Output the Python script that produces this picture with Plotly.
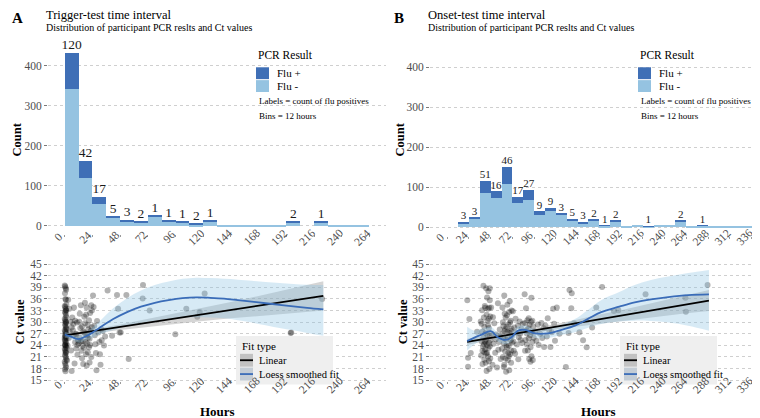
import plotly.graph_objects as go

W, H = 760, 418
FONT = "Liberation Serif, Times New Roman, Tinos, DejaVu Serif, serif"

# ---------------- data ----------------
bin_width = 12
a_bin_start = list(range(0, 264, 12))
a_flu_neg = [342, 120, 56, 19, 12, 9, 25, 12, 10, 4, 12, 3, 3, 2, 2, 3, 9, 0, 10, 1, 2, 1]
a_flu_pos = [91, 42, 17, 5, 3, 2, 1, 1, 1, 2, 1, 0, 0, 0, 0, 0, 2, 0, 1, 0, 0, 0]
a_pos_labels = ["120", "42", "17", "5", "3", "2", "1", "1", "1", "2", "1", "", "", "", "", "", "2", "", "1", "", "", ""]

b_bin_start = list(range(0, 336, 12))
b_flu_neg = [0, 10, 22, 85, 74, 109, 60, 69, 30, 40, 32, 16, 10, 17, 4, 15, 2, 7, 2, 7, 5, 14, 1, 4, 3, 2, 2, 3]
b_flu_pos = [0, 3, 3, 31, 16, 42, 16, 25, 10, 9, 3, 5, 3, 2, 1, 2, 0, 0, 1, 0, 0, 2, 0, 1, 0, 0, 0, 0]
b_pos_labels = ["", "3", "3", "51", "16", "46", "17", "27", "9", "9", "3", "5", "3", "2", "1", "2", "", "", "1", "", "", "2", "", "1", "", "", "", ""]

a_x_ticks = list(range(0, 265, 24))
b_x_ticks = list(range(0, 337, 24))
count_ticks = [0, 100, 200, 300, 400]
ct_ticks = list(range(15, 46, 3))

# Panel A scatter (hours, Ct)
a_pt_hours = [
    0.0, 0.4, 0.8, 1.2, 0.2, 0.6, 1.0, 1.4, 0.0, 0.4, 0.8, 1.2, 0.2, 0.6, 1.0, 1.4, 0.0, 0.4, 0.8, 1.2,
    0.2, 0.6, 1.0, 1.4, 0.0, 0.4, 0.8, 1.2, 0.2, 0.6, 1.0, 1.4, 0.0, 0.4, 0.8, 1.2, 0.2, 0.6, 1.0, 1.4,
    0.0, 0.4, 0.8, 1.2, 0.2, 0.6, 1.0, 1.4, 0.0, 0.4, 0.8, 1.2, 0.2, 0.6, 1.0, 1.4, 0.0, 0.4, 0.8, 1.2,
    3, 4, 5, 6, 7, 8, 9, 10, 11, 3.5, 5.5, 6.5, 7.5, 8.5, 9.5, 10.5, 4.5, 2.5, 11.5, 6, 8, 9, 2, 10, 11,
    12.5, 13, 14, 14.5, 15, 15.5, 16, 16.5, 17, 17.5, 18, 18.5, 19, 19.5, 20, 20.5, 21, 21.5, 22, 22.5, 23,
    23.5, 13.5, 14, 15, 17, 18, 19, 20, 21, 22, 23, 12, 16, 18.5, 20, 21.5, 23.5, 13, 15.5, 17.5, 19.5,
    24.5, 25, 25.5, 26, 26.5, 27, 27.5, 28, 29, 30, 31, 31.5, 32, 33, 34, 35, 30.5,
    37.1, 41, 45.3, 46.2, 47.5, 48.5, 53.4, 55.4, 67.8, 67.5, 73.6, 95.8, 105.3, 114.8, 116.9, 121.2,
    195.7, 196.2, 223,
]
a_pt_ct = [
    39.5, 39.2, 38.8, 38.4, 37.5, 36.0, 35.8, 34.6, 34.2, 33.9, 33.5, 33.1, 32.7, 32.3, 31.8, 31.3, 30.9, 30.5, 30.2, 29.8,
    29.5, 29.1, 28.7, 28.4, 28.0, 27.6, 27.3, 27.0, 26.7, 26.4, 26.1, 25.8, 25.5, 25.2, 24.9, 24.6, 24.3, 24.0, 23.7, 23.4,
    23.1, 22.8, 22.4, 22.0, 21.6, 21.2, 20.8, 20.3, 19.8, 19.3, 18.8, 18.3, 17.8, 17.3, 30.0, 28.2, 26.0, 24.1, 22.2, 33.0,
    35.8, 33.5, 30.1, 28.7, 27.9, 26.5, 24.8, 23.2, 21.6, 25.9, 22.7, 31.2, 29.5, 19.3, 27.0, 29.9, 27.4, 23.9, 25.3, 17.4, 33.8, 30.4, 20.1, 26.8, 24.1,
    30.1, 26.0, 34.4, 22.6, 28.9, 25.2, 19.2, 23.4, 27.3, 29.7, 24.9, 21.7, 33.8, 26.6, 22.2, 28.2, 30.5, 25.7, 24.1, 27.8, 34.4,
    33.0, 28.5, 25.0, 20.7, 31.4, 26.9, 18.8, 29.3, 23.5, 32.4, 21.0, 24.5, 27.6, 31.9, 25.9, 19.6, 28.7, 32.2, 23.9, 35.0, 24.4,
    36.9, 33.9, 29.1, 26.6, 24.3, 22.0, 17.6, 30.3, 27.3, 24.9, 19.0, 28.2, 25.3, 27.8, 24.0, 26.3, 21.7,
    38.2, 26.5, 37.0, 33.5, 27.3, 27.3, 37.0, 20.5, 39.6, 36.1, 33.0, 26.9, 33.5, 31.4, 32.6, 37.4,
    27.2, 27.3, 36.0,
]

# Panel B scatter (hours, Ct)
b_pt_hours = [
    22.2, 23, 23, 24.5, 26, 33,
    37, 38, 39, 40, 40.5, 41, 41.5, 42, 42.5, 43, 43, 43.5, 44, 44.5, 45, 45, 45.5, 46, 46, 46.5, 47, 47, 47.5, 47.5,
    38, 39, 40, 41, 42, 44, 45, 46, 47, 37.5, 38.5, 39.5, 41.5, 42.5, 43.5, 44.5, 46.5, 47.5, 40.5, 43, 45.5, 39, 44, 47, 46, 42, 41,
    48.5, 49, 50, 51, 52, 53, 54, 55, 56, 57, 58, 59, 50.5, 53.5, 56.5, 58.5,
    60.5, 61, 61.5, 62, 62.5, 63, 63, 63.5, 64, 64.5, 65, 65, 65.5, 66, 66.5, 67, 67, 67.5, 68, 68.5, 68.5, 69, 69.5, 70, 70,
    70.5, 71, 71, 71.5, 60.5, 61.5, 62.5, 64, 66, 67.5, 69, 70.5, 71.5, 62, 64.5, 66.5, 68, 69.5, 63.5, 65.5, 70,
    72.5, 73, 74, 75, 76, 77, 78, 79, 80, 81, 82, 83, 73.5, 75.5, 78.5, 80.5, 83.5,
    85.5, 86, 86.5, 87, 87.5, 88, 88.5, 89, 89.5, 90, 90.5, 91, 91.5, 92, 92.5, 93, 93, 93.5, 94, 94.5, 95, 95.5, 88, 90, 92, 94, 86,
    97, 98.5, 100, 101, 102.5, 104, 105, 106.5, 107,
    108.5, 110, 111, 112.5, 114, 115.5, 117, 118, 119,
    121, 124, 131, 135, 137.5, 137, 134, 140, 146, 150, 154, 164.6, 160, 171, 184, 189, 219, 263, 263.5, 287.5,
]
b_pt_ct = [
    35.7, 20.8, 18.5, 30.8, 22.0, 27.5,
    30.2, 29.6, 27.5, 39.4, 24.3, 20.3, 34.2, 23.0, 19.5, 38.8, 25.5, 31.9, 22.0, 26.7, 33.5, 21.1, 38.0, 24.7, 28.5, 17.9, 35.7, 23.8, 31.5, 20.6,
    25.1, 22.6, 26.0, 28.8, 33.7, 24.1, 29.2, 19.9, 26.4, 21.4, 33.1, 23.7, 25.1, 27.2, 17.4, 30.4, 33.7, 25.3, 31.2, 21.9, 23.3, 19.2, 36.4, 38.8, 30.9, 24.8, 22.2,
    33.8, 27.1, 19.0, 24.4, 29.7, 22.1, 26.8, 18.3, 34.9, 24.9, 28.1, 20.5, 31.3, 25.6, 22.9, 26.3,
    26.9, 33.8, 21.0, 29.0, 24.5, 36.9, 19.0, 27.7, 22.4, 31.2, 25.6, 17.2, 28.8, 23.5, 34.5, 20.2, 26.2, 29.4, 24.0, 17.6, 32.6, 27.2, 21.7, 25.3, 30.4,
    22.7, 28.3, 33.0, 24.7, 23.1, 30.0, 18.4, 28.2, 31.8, 22.0, 35.4, 19.5, 26.5, 25.9, 20.6, 27.5, 21.2, 29.9, 32.2, 24.0, 27.8,
    32.8, 25.0, 28.6, 21.9, 27.3, 24.2, 29.1, 26.1, 30.2, 25.4, 28.2, 24.7, 22.6, 30.9, 20.4, 27.0, 29.6,
    37.2, 29.8, 25.4, 33.6, 27.9, 24.2, 30.5, 22.7, 28.4, 25.8, 20.5, 29.3, 26.6, 23.5, 30.1, 36.3, 21.2, 27.4, 24.9, 20.2, 28.9, 26.0, 27.1, 31.0, 19.8, 30.4, 22.6,
    27.5, 25.2, 29.4, 24.1, 27.0, 29.8, 25.9, 28.4, 23.6,
    29.1, 26.3, 31.0, 28.0, 23.6, 27.4, 33.5, 29.6, 25.2,
    33.8, 27.0, 18.4, 38.3, 37.5, 33.6, 27.2, 29.7, 27.4, 25.3, 23.5, 33.8, 28.6, 39.1, 32.9, 33.1, 37.2, 36.3, 32.7, 39.6,
]

# Fitted curves
a_lin_hours = [0, 24, 48, 72, 96, 120, 144, 168, 192, 216, 224]
a_lin_fit = [26.6, 27.7, 28.8, 29.9, 31.0, 32.1, 33.2, 34.2, 35.3, 36.4, 36.8]
a_lin_lo = [26.0, 27.1, 28.0, 28.8, 29.6, 30.3, 31.0, 31.6, 32.2, 32.8, 33.0]
a_lin_hi = [27.0, 28.1, 29.4, 30.8, 32.2, 33.7, 35.2, 36.8, 38.4, 40.0, 40.6]

a_loess_hours = [0, 6, 12, 18, 24, 30, 42, 54, 66, 78, 90, 102, 114, 126, 138, 150, 162, 174, 186, 198, 210, 224]
a_loess_fit = [26.8, 26.2, 25.6, 26.3, 27.3, 28.5, 30.8, 32.6, 34.0, 35.0, 35.7, 36.2, 36.4, 36.3, 36.1, 35.7, 35.3, 34.9, 34.5, 34.1, 33.7, 33.3]
a_loess_lo = [26.1, 25.5, 24.7, 25.3, 26.0, 26.8, 28.0, 29.0, 29.8, 30.4, 30.9, 31.2, 31.3, 31.2, 31.0, 30.5, 29.9, 29.2, 28.5, 27.9, 27.2, 26.5]
a_loess_hi = [27.5, 26.9, 26.5, 27.3, 28.6, 30.2, 33.6, 36.2, 38.2, 39.6, 40.5, 41.2, 41.5, 41.4, 41.2, 41.0, 40.7, 40.4, 40.1, 39.9, 39.7, 39.6]

b_lin_hours = [22, 48, 72, 96, 120, 144, 168, 192, 216, 240, 264, 289]
b_lin_fit = [24.9, 25.95, 26.9, 27.9, 28.8, 29.8, 30.8, 31.7, 32.7, 33.7, 34.6, 35.6]
b_lin_lo = [24.1, 25.4, 26.4, 27.3, 28.1, 28.9, 29.6, 30.3, 31.0, 31.7, 32.3, 32.9]
b_lin_hi = [25.7, 26.5, 27.4, 28.5, 29.5, 30.7, 32.0, 33.1, 34.4, 35.7, 36.9, 38.3]

b_loess_hours = [22, 30, 38, 48, 56, 64, 71, 78, 86, 97, 111, 126, 141, 155, 170, 190, 207, 225, 244, 266, 289]
b_loess_fit = [25.1, 26.0, 26.8, 27.7, 26.1, 25.4, 26.1, 27.8, 28.0, 27.1, 27.1, 28.0, 29.1, 30.8, 32.6, 34.0, 35.1, 35.9, 36.5, 37.0, 37.2]
b_loess_lo = [22.7, 24.2, 25.3, 26.6, 25.0, 24.3, 25.0, 26.7, 26.9, 26.0, 25.9, 26.7, 27.4, 28.5, 29.5, 30.2, 30.4, 30.3, 29.9, 29.1, 27.8]
b_loess_hi = [28.8, 27.8, 28.3, 28.8, 27.2, 26.5, 27.2, 28.9, 29.1, 28.2, 28.3, 29.3, 30.8, 33.1, 35.7, 37.8, 39.6, 40.9, 41.8, 42.7, 43.5]

# ---------------- style ----------------
DARK = "#3F6FB6"
LIGHT = "#95C3E1"
LOESS = "#3A6CB8"
TICKC = "#4d4d4d"
GRID = "#cfcfcf"


def px(x):
    return x / W


def py(y):
    return 1 - y / H


fig = go.Figure()


def add_hist(starts, neg, pos, labels, xa, ya, lab_size):
    centers = [s + bin_width / 2 for s in starts]
    fig.add_trace(go.Bar(x=centers, y=neg, width=[bin_width] * len(centers), marker=dict(color=LIGHT, line=dict(width=0)),
                         xaxis=xa, yaxis=ya, showlegend=False))
    fig.add_trace(go.Bar(x=centers, y=pos, width=[bin_width] * len(centers), marker=dict(color=DARK, line=dict(width=0)),
                         xaxis=xa, yaxis=ya, showlegend=False))
    lx = [c for c, l in zip(centers, labels) if l]
    ly = [n + p for n, p, l in zip(neg, pos, labels) if l]
    lt = [l for l in labels if l]
    fig.add_trace(go.Scatter(x=lx, y=ly, text=lt, mode="text", textposition="top center",
                             textfont=dict(family=FONT, size=lab_size, color="#1a1a1a"),
                             xaxis=xa, yaxis=ya, showlegend=False, cliponaxis=False))


def add_fits(ph, pc, lh, lf, llo, lhi, sh, sf, slo, shi, xa, ya):
    fig.add_trace(go.Scatter(x=ph, y=pc, mode="markers",
                             marker=dict(size=6, color="rgba(0,0,0,0.3)", line=dict(width=0)),
                             xaxis=xa, yaxis=ya, showlegend=False))
    fig.add_trace(go.Scatter(x=lh, y=llo, mode="lines", line=dict(width=0), xaxis=xa, yaxis=ya, showlegend=False))
    fig.add_trace(go.Scatter(x=lh, y=lhi, mode="lines", line=dict(width=0), fill="tonexty",
                             fillcolor="rgba(150,150,150,0.4)", xaxis=xa, yaxis=ya, showlegend=False))
    fig.add_trace(go.Scatter(x=sh, y=slo, mode="lines", line=dict(width=0, shape="spline"), xaxis=xa, yaxis=ya, showlegend=False))
    fig.add_trace(go.Scatter(x=sh, y=shi, mode="lines", line=dict(width=0, shape="spline"), fill="tonexty",
                             fillcolor="rgba(135,192,225,0.33)", xaxis=xa, yaxis=ya, showlegend=False))
    fig.add_trace(go.Scatter(x=lh, y=lf, mode="lines", line=dict(color="black", width=1.8),
                             xaxis=xa, yaxis=ya, showlegend=False))
    fig.add_trace(go.Scatter(x=sh, y=sf, mode="lines", line=dict(color=LOESS, width=1.8, shape="spline"),
                             xaxis=xa, yaxis=ya, showlegend=False))


add_hist(a_bin_start, a_flu_neg, a_flu_pos, a_pos_labels, "x", "y", 13.5)
add_fits(a_pt_hours, a_pt_ct, a_lin_hours, a_lin_fit, a_lin_lo, a_lin_hi,
         a_loess_hours, a_loess_fit, a_loess_lo, a_loess_hi, "x2", "y2")
add_hist(b_bin_start, b_flu_neg, b_flu_pos, b_pos_labels, "x3", "y3", 11)
add_fits(b_pt_hours, b_pt_ct, b_lin_hours, b_lin_fit, b_lin_lo, b_lin_hi,
         b_loess_hours, b_loess_fit, b_loess_lo, b_loess_hi, "x4", "y4")

tickfont = dict(family=FONT, size=11.5, color=TICKC)


def xax(dom, rng, ticks, anchor):
    return dict(domain=dom, range=rng, tickvals=ticks, showticklabels=False, anchor=anchor,
                showgrid=False, zeroline=False, showline=False, ticks="outside", ticklen=2, tickcolor="#9a9a9a",
                fixedrange=True)


def yax(dom, rng, ticks, anchor):
    return dict(domain=dom, range=rng, tickvals=ticks, tickfont=tickfont, anchor=anchor,
                showgrid=True, gridcolor=GRID, griddash="dot", gridwidth=1, zeroline=False, showline=False,
                ticks="outside", ticklen=3, tickcolor="#7a7a7a", fixedrange=True)


xA = [px(40), px(378)]
xB = [px(422), px(758)]
fig.update_layout(
    width=W, height=H, margin=dict(l=0, r=0, t=0, b=0),
    paper_bgcolor="white", plot_bgcolor="white", barmode="stack", bargap=0,
    font=dict(family=FONT),
    xaxis=xax(xA, [-14.5, 278.3], a_x_ticks, "y"),
    yaxis=yax([py(229), py(37)], [-21.6, 453], count_ticks, "x"),
    xaxis2=xax(xA, [-14.5, 278.3], a_x_ticks, "y2"),
    yaxis2=yax([py(378), py(253)], [14.67, 46.6], ct_ticks, "x2"),
    xaxis3=xax(xB, [-19, 352], b_x_ticks, "y3"),
    yaxis3=yax([py(230.5), py(38.5)], [-21, 453], count_ticks, "x3"),
    xaxis4=xax(xB, [-19, 352], b_x_ticks, "y4"),
    yaxis4=yax([py(378), py(253)], [14.67, 46.6], ct_ticks, "x4"),
)

ann = []
shapes = []


def text(x, y, s, size, bold=False, xanchor="left", color="black", angle=0):
    ann.append(dict(x=px(x), y=py(y), xref="paper", yref="paper", text=("<b>%s</b>" % s) if bold else s,
                    showarrow=False, xanchor=xanchor, yanchor="middle", textangle=angle,
                    font=dict(family=FONT, size=size, color=color)))


def rect(x0, y0, x1, y1, color):
    shapes.append(dict(type="rect", xref="paper", yref="paper", x0=px(x0), x1=px(x1), y0=py(y1), y1=py(y0),
                       fillcolor=color, line=dict(width=0), layer="above"))


def hline(x0, x1, y, color):
    shapes.append(dict(type="line", xref="paper", yref="paper", x0=px(x0), x1=px(x1), y0=py(y), y1=py(y),
                       line=dict(color=color, width=1.8), layer="above"))


# rotated x tick labels, centred on their ticks (through the axis scale)
def xlabels(ticks, xref, ycenter):
    for t in ticks:
        ann.append(dict(x=t, y=py(ycenter), xref=xref, yref="paper", text=str(t), showarrow=False,
                        xanchor="center", yanchor="middle", textangle=-45, xshift=-7, yshift=6.5,
                        font=tickfont))


xlabels(a_x_ticks, "x", 238)
xlabels(a_x_ticks, "x2", 388)
xlabels(b_x_ticks, "x3", 238.5)
xlabels(b_x_ticks, "x4", 388)

for ox, letter, title in [(0, "A", "Trigger-test time interval"), (382, "B", "Onset-test time interval")]:
    text(ox + 2, 10, letter, 15, bold=True)
    text(ox + 36, 7, title, 12.5)
    text(ox + 36, 20, "Distribution of participant PCR reslts and Ct values", 10)

# axis titles
text(9, 133, "Count", 12.5, bold=True, xanchor="center", angle=-90)
text(12, 318, "Ct value", 12.5, bold=True, xanchor="center", angle=-90)
text(392, 133, "Count", 12.5, bold=True, xanchor="center", angle=-90)
text(395, 318, "Ct value", 12.5, bold=True, xanchor="center", angle=-90)
text(209, 408, "Hours", 13, bold=True, xanchor="center")
text(590, 408, "Hours", 13, bold=True, xanchor="center")

# PCR legends
for lx in [248, 630]:
    text(lx, 48, "PCR Result", 11.5)
    rect(lx, 60, lx + 13, 72, DARK)
    rect(lx, 73, lx + 13, 85, LIGHT)
    text(lx + 19, 66, "Flu +", 11)
    text(lx + 19, 79, "Flu -", 11)
    text(lx + 1, 94, "Labels = count of flu positives", 9)
    text(lx + 1, 109, "Bins = 12 hours", 9)

# Fit type legends
for bx in [228, 612]:
    rect(bx, 332, bx + 97, 381, "#efefef")
    text(bx + 4, 342, "Fit type", 11)
    rect(bx + 4, 350, bx + 17, 363, "#c2c2c2")
    rect(bx + 4, 364, bx + 17, 377, "#c3ccd5")
    hline(bx + 4, bx + 17, 356.5, "black")
    hline(bx + 4, bx + 17, 370.5, LOESS)
    text(bx + 21, 357, "Linear", 10.5)
    text(bx + 21, 371, "Loess smoothed fit", 10.5)

fig.update_layout(annotations=ann, shapes=shapes)

fig.write_html("out.html")
